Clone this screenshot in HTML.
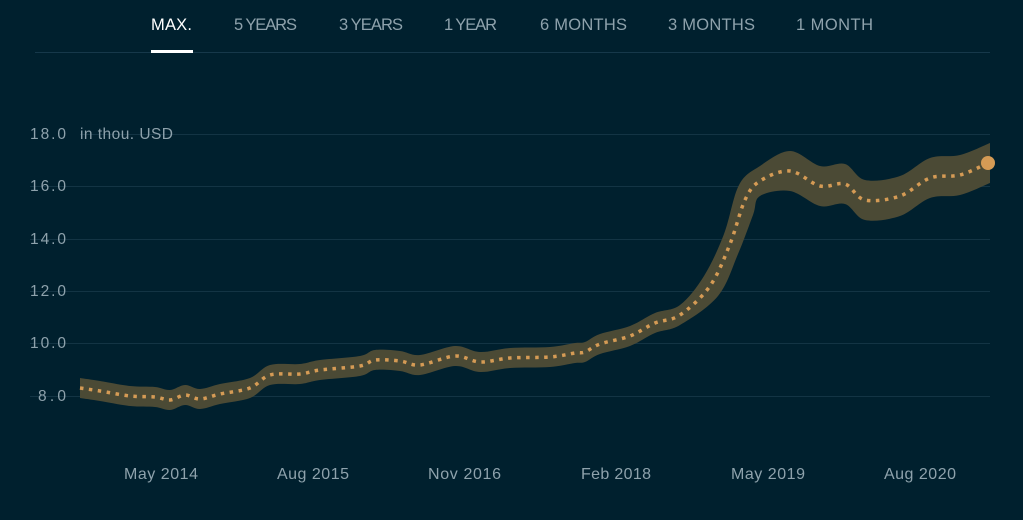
<!DOCTYPE html>
<html><head><meta charset="utf-8"><style>
html,body{margin:0;padding:0;background:#00202e;width:1023px;height:520px;overflow:hidden;font-family:"Liberation Sans",sans-serif}
</style></head><body>
<svg id="s" width="1023" height="520" xmlns="http://www.w3.org/2000/svg" style="position:absolute;left:0;top:0">
<rect width="1023" height="520" fill="#00202e"/>
<line x1="35" y1="52.5" x2="990" y2="52.5" stroke="#16384a" stroke-width="1"/>
<rect x="151" y="50" width="42" height="3" fill="#ffffff"/>
<g font-size="16.5" fill="#8ea2ac">
<text x="151" y="30" fill="#ffffff" textLength="41">MAX.</text>
<text x="234" y="30" textLength="63">5 YEARS</text>
<text x="339" y="30" textLength="64">3 YEARS</text>
<text x="444" y="30" textLength="53">1 YEAR</text>
<text x="540" y="30" textLength="87">6 MONTHS</text>
<text x="668" y="30" textLength="87">3 MONTHS</text>
<text x="796" y="30" textLength="77">1 MONTH</text>
</g>
<g stroke="#133444" stroke-width="1">
<line x1="80" y1="134.5" x2="990" y2="134.5"/>
<line x1="30" y1="186.5" x2="990" y2="186.5"/>
<line x1="30" y1="239.5" x2="990" y2="239.5"/>
<line x1="30" y1="291.5" x2="990" y2="291.5"/>
<line x1="30" y1="343.5" x2="990" y2="343.5"/>
<line x1="30" y1="396.5" x2="990" y2="396.5"/>
</g>
<g font-size="15.5" fill="#8ea2ac">
<text x="30" y="139" textLength="36">18.0</text>
<text x="80" y="139" textLength="93">in thou. USD</text>
<text x="30" y="191" textLength="36">16.0</text>
<text x="30" y="244" textLength="36">14.0</text>
<text x="30" y="296" textLength="36">12.0</text>
<text x="30" y="348" textLength="36">10.0</text>
<text x="38" y="401" textLength="28">8.0</text>
</g>
<g font-size="16" fill="#8ea2ac">
<text x="124" y="479" textLength="74">May 2014</text>
<text x="277" y="479" textLength="72">Aug 2015</text>
<text x="428" y="479" textLength="73">Nov 2016</text>
<text x="581" y="479" textLength="70">Feb 2018</text>
<text x="731" y="479" textLength="74">May 2019</text>
<text x="884" y="479" textLength="72">Aug 2020</text>
</g>
<path id="band" fill="#4b4a35"/>
<path id="line" fill="none" stroke="#d59b55" stroke-width="3.5" stroke-dasharray="3.5 5.5"/>
<circle cx="988" cy="163" r="7" fill="#d59b55"/>
</svg>
<script>
var P=[[80,388],[100,391],[130,396],[155,397],[170,400],[185,395],[200,399],[220,394],[250,388],[270,375],[300,374],[320,370],[360,366],[375,360],[400,361],[420,365],[455,356],[480,362],[510,358],[550,357],[575,353],[585,352],[600,344],[630,336],[655,323],[680,315],[710,286],[730,244],[745,200],[760,181],[790,171],[820,186],[845,184],[865,200],[900,196],[930,178],[960,175],[988,163]];
function off(x){return x<740?10:(x<770?15:20);}
function smooth(pts){var d="M"+pts[0][0]+","+pts[0][1];for(var i=0;i<pts.length-1;i++){var p0=pts[i-1]||pts[i],p1=pts[i],p2=pts[i+1],p3=pts[i+2]||p2;var c1=[p1[0]+(p2[0]-p0[0])/6,p1[1]+(p2[1]-p0[1])/6],c2=[p2[0]-(p3[0]-p1[0])/6,p2[1]-(p3[1]-p1[1])/6];d+=" C"+c1+" "+c2+" "+p2;}return d;}
var up=P.map(function(p){var o=off(p[0]);var sx=(p[0]>700&&p[0]<760)?-6:0;return [Math.max(80,Math.min(990,p[0]+sx)),p[1]-o];});
var lo=P.map(function(p){var o=off(p[0]);var sx=(p[0]>700&&p[0]<760)?8:0;return [Math.max(80,Math.min(990,p[0]+sx)),p[1]+o];}).reverse();
up[up.length-1][0]=990;lo[0][0]=990;up[0][0]=80;lo[lo.length-1][0]=80;
var d=smooth(up)+" L"+lo[0]+" "+smooth(lo).slice(1)+" Z";
document.getElementById("band").setAttribute("d",d);
document.getElementById("line").setAttribute("d",smooth(P));
</script>
</body></html>
